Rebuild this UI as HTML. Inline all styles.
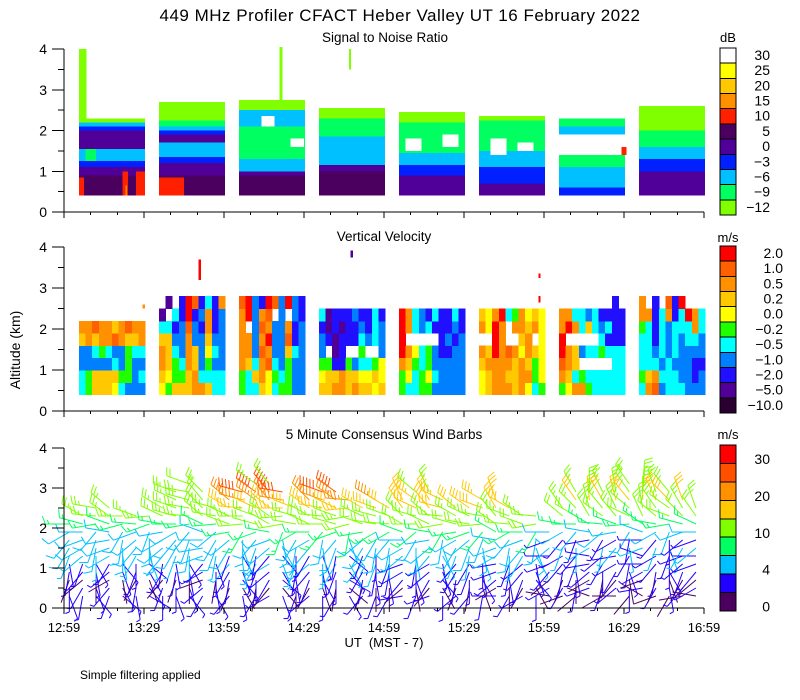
<!DOCTYPE html>
<html><head><meta charset="utf-8"><style>
html,body{margin:0;padding:0;background:#fff;}
svg{display:block;font-family:"Liberation Sans",sans-serif;}
</style></head><body>
<svg id="chart" width="800" height="700" viewBox="0 0 800 700" xmlns="http://www.w3.org/2000/svg" shape-rendering="crispEdges">
<rect width="800" height="700" fill="#fff"/>
<text x="400" y="21" font-size="17" text-anchor="middle" letter-spacing="0.5">449 MHz Profiler CFACT Heber Valley UT 16 February 2022</text>
<text x="385" y="42" font-size="13.5" text-anchor="middle">Signal to Noise Ratio</text>
<text x="384" y="241" font-size="13.5" text-anchor="middle">Vertical Velocity</text>
<text x="384" y="439" font-size="13.5" text-anchor="middle">5 Minute Consensus Wind Barbs</text>
<text transform="translate(20,350) rotate(-90)" font-size="14" text-anchor="middle">Altitude (km)</text>
<text x="384" y="647" font-size="13" text-anchor="middle" xml:space="preserve">UT  (MST - 7)</text>
<text x="80" y="679" font-size="12">Simple filtering applied</text>
<g id="g-snr"></g>
<g id="g-vv"></g>
<g id="g-wind"></g>
<g id="g-axes"></g>
<g id="g-cbar"></g>
</svg>
<script>
// ---------- data ----------
const blockStart = [5.6, 35.6, 65.6, 95.6, 125.6, 155.6, 185.6, 215.6];
const blockEnd = [30.4, 60.4, 90.4, 120.4, 150.4, 180.4, 210.4, 240.4];
const snrColors = ['#80ff00','#00ff60','#00c0ff','#0020ff','#500099','#4b0060','#ff2000','#ff9000','#ffc800','#ffff00','#ffffff'];
const snrLabels = ['-12','-9','-6','-3','0','5','10','15','20','25','30'];
const snrLayers = [
 [[0.9,5],[1.1,4],[1.25,3],[1.55,2],[1.75,4],[2.0,4],[2.1,3],[2.2,2],[2.3,0]],
 [[0.9,5],[1.2,4],[1.35,3],[1.7,2],[1.9,4],[2.0,3],[2.1,2],[2.25,1],[2.7,0]],
 [[0.9,5],[1.0,4],[1.3,2],[1.7,1],[2.1,1],[2.5,2],[2.75,0]],
 [[1.0,5],[1.15,4],[1.5,2],[1.85,2],[2.3,1],[2.55,0]],
 [[0.9,4],[1.15,3],[1.45,2],[1.8,1],[2.2,1],[2.45,0]],
 [[0.7,4],[1.1,3],[1.5,2],[1.9,1],[2.25,1],[2.35,0]],
 [[0.6,3],[1.1,2],[1.4,1],[1.9,10],[2.1,2],[2.3,1]],
 [[1.0,4],[1.3,3],[1.6,2],[2.0,1],[2.4,0],[2.6,0]]
];
const snrPatches = [
 [5.6,7.5,0.4,0.85,6],[22,24,0.4,1.0,6],[27,30.4,0.4,1.0,6],[23,23.6,0.4,0.65,7],
 [5.6,8.5,2.2,4.0,0],[8,12,1.25,1.55,1],[35.6,45,0.4,0.85,6],
 [80.8,82,2.7,4.05,0],[106.8,107.6,3.5,4.0,0],
 [74,79,2.1,2.35,10],[85,90,1.6,1.8,10],[128,134,1.5,1.8,10],[142,148,1.6,1.9,10],
 [160,166,1.4,1.8,10],[170,176,1.5,1.7,10],[209,211,1.4,1.6,6],[215.6,225,0.4,1.0,4]
];
const vvColors = ['#2a0030','#500099','#2010ff','#0080ff','#00ffff','#20ff00','#ffff00','#ffc800','#ff9000','#ff6000','#ff0000'];
const vvLabels = ['-10.0','-5.0','-2.0','-1.0','-0.5','-0.2','0.0','0.2','0.5','1.0','2.0'];
const vvRowBase = [0.4,0.7,1.0,1.3,1.6,1.9,2.2,2.5];
const vvGrid = [
 ["4577764333","4577775534","3333343533","3345433544","7878898778","8898878988","..........",".........."],
 ["6577788744","7655784444","8754873533","8743873643","7733833733","4423932823","1.42a23823",".1.2a92428"],
 ["5447645533","5478654533","8748943533","8839833743","8838a33923","8.39833823","8a389.3.32","9a32a93a32"],
 ["7788787767","6778776676","5522534456","3.12..5..3","3212224343","2121223243","4122232242",".........."],
 ["5445533333","5645643333","8754533333","a864532233","a.....2323","a843422232","a843242242",".........."],
 ["6788878645","6788778856","7888878756","87a8986876","..a8..78.6","86a8.88786","768a458676",".........."],
 ["5688544444","8745444444","987.....44","a873445444","a.....4222","8a84743422","8844342222","........2."],
 ["4893444333","5784443323","4443433322","4434343333","4424343443","5424344484","8824824a84","8.2.92a..."]
];
const vvSpikes = [[50.5,51.3,3.2,3.7,10],[107.5,108.3,3.75,3.92,1],[29.5,30.3,2.5,2.6,8],[178,178.6,3.25,3.35,10],[178,178.6,2.65,2.8,10]];
const windColors = ['#4b0060','#2000ff','#00c0ff','#00ff60','#80ff00','#ffc800','#ff9000','#ff5000','#ff0000'];
const windThresh = [2,4,7,10,15,20,25,30];
const windLabels = ['30','20','10','4','0'];
const windLevels = [0.3,0.5,0.7,0.9,1.1,1.3,1.5,1.7,1.9,2.1,2.3,2.5,2.7,2.9,3.1];
const hourSpeed = [
 [2,3,1,3,3,4,5,5,6,9,12,14,13,12,11],
 [3,1,3,3,4,3,5,6,8,10,13,17,22,26,12],
 [2,1,3,2,3,4,5,6,7,10,12,15,17,14,12],
 [1,2,1,3,2,3,4,3,5,8,11,13,16,14,12]
];
const hourDir = [
 [160,180,200,190,170,200,210,220,240,270,285,290,295,290,300],
 [200,180,170,190,200,180,190,210,240,280,285,290,300,300,300],
 [220,190,180,200,210,190,200,230,250,280,295,305,315,320,320],
 [250,210,200,190,220,240,200,220,240,280,310,325,335,340,340]
];
const colTime = [2,7,12,17,22,27,32,37,42,47,52,57,62,67,72,77,82,87,92,97,102,107,112,117,122,127,132,137,142,147,152,157,162,167,172,177,182,187,192,197,202,207,212,217,222,227,232,237];
const colTop = [2.2,2.4,2.5,2.5,2.4,2.3,2.3,2.6,3.0,3.3,2.9,2.6,2.8,3.0,3.2,3.2,2.9,2.6,2.8,3.0,3.0,2.8,2.6,2.7,2.6,2.8,3.0,3.0,2.8,2.6,2.6,2.8,2.7,2.6,2.4,2.4,2.0,2.6,2.9,3.0,3.0,2.9,3.2,3.3,3.0,2.9,2.8,2.6];
const colDirOff = [0,15,-10,20,-15,5,-20,10,0,-10,25,-5,10,-15,5,20,-20,0,15,-10,5,-25,10,0,-5,20,-10,15,-20,5,0,-15,25,-5,10,-20,15,0,-10,20,-5,10,-15,25,0,-20,5,15];

// ---------- scales ----------
const NS='http://www.w3.org/2000/svg';
function xS(m){return 64 + m*80/30;}
function y1(a){return 212 - a*40.75;}
function y2(a){return 411 - a*41;}
function y3(a){return 608 - a*40;}
function mk(tag,attrs,parent){const e=document.createElementNS(NS,tag);for(const k in attrs)e.setAttribute(k,attrs[k]);parent.appendChild(e);return e;}

// ---------- SNR ----------
const gS=document.getElementById('g-snr');
snrLayers.forEach((layers,b)=>{
  let base=0.4;
  layers.forEach(([top,c])=>{
    const r=mk('rect',{x:xS(blockStart[b]),y:y1(top),width:xS(blockEnd[b])-xS(blockStart[b]),height:y1(base)-y1(top),fill:snrColors[c]},gS);
    
    
    base=top;
  });
});
snrPatches.forEach(([t0,t1,a0,a1,c])=>{
  const r=mk('rect',{x:xS(t0),y:y1(a1),width:xS(t1)-xS(t0),height:y1(a0)-y1(a1),fill:snrColors[c]},gS);
  
  
});

// ---------- VV ----------
const gV=document.getElementById('g-vv');
vvGrid.forEach((rows,b)=>{
  const cw=(blockEnd[b]-blockStart[b])/10;
  rows.forEach((row,ri)=>{
    for(let ci=0;ci<row.length;ci++){
      const ch=row[ci]; if(ch==='.') continue;
      const v=parseInt(ch,16);
      const a0=vvRowBase[ri], a1=a0+0.3;
      const t0=blockStart[b]+ci*cw;
      const r=mk('rect',{x:xS(t0),y:y2(a1),width:xS(t0+cw)-xS(t0)+0.5,height:y2(a0)-y2(a1)+0.5,fill:vvColors[v]},gV);
      
      
    }
  });
});
vvSpikes.forEach(([t0,t1,a0,a1,c])=>{
  const r=mk('rect',{x:xS(t0),y:y2(a1),width:xS(t1)-xS(t0),height:y2(a0)-y2(a1),fill:vvColors[c]},gV);
  
  
});

// ---------- Wind barbs ----------
const gW=document.getElementById('g-wind');
gW.setAttribute('shape-rendering','auto');
function spdIdx(s){let i=0;while(i<windThresh.length&&s>=windThresh[i])i++;return i;}
colTime.forEach((t,ci)=>{
  const h=Math.min(3,Math.floor(t/60));
  windLevels.forEach((alt,li)=>{
    if(alt>colTop[ci]) return;
    const s=hourSpeed[h][li], d=(hourDir[h][li]+colDirOff[ci]*(li<9?2:1))*Math.PI/180;
    const x0=xS(t), yy=y3(alt), L=24;
    const ux=Math.sin(d), uy=-Math.cos(d);
    const col=windColors[spdIdx(s)];
    const g=mk('g',{stroke:col,'stroke-width':1,fill:'none'},gW);
    
    
    mk('line',{x1:x0,y1:yy,x2:x0+ux*L,y2:yy+uy*L},g);
    let rem=s, pos=L;
    const px=-uy, py=ux;
    while(rem>=4.5){mk('line',{x1:x0+ux*pos,y1:yy+uy*pos,x2:x0+ux*(pos+3)+px*8,y2:yy+uy*(pos+3)+py*8},g);rem-=5;pos-=3.5;}
    if(rem>=2){mk('line',{x1:x0+ux*pos,y1:yy+uy*pos,x2:x0+ux*(pos+1.5)+px*4,y2:yy+uy*(pos+1.5)+py*4},g);}
  });
});

// ---------- Axes ----------
const gA=document.getElementById('g-axes');
const ticks=['12:59','13:29','13:59','14:29','14:59','15:29','15:59','16:29','16:59'];
[y1,y2,y3].forEach((yf,pi)=>{
  const y0=yf(0);
  mk('line',{x1:64,y1:yf(4),x2:64,y2:y0,stroke:'#000'},gA);
  mk('line',{x1:64,y1:y0,x2:704,y2:y0,stroke:'#000'},gA);
  for(let a=0;a<=4;a+=0.5){
    const major=a%1===0;
    mk('line',{x1:major?52:58,y1:yf(a),x2:64,y2:yf(a),stroke:'#000'},gA);
    if(major){const tx=mk('text',{x:47,y:yf(a)+5,'font-size':14,'text-anchor':'end'},gA);tx.textContent=String(a);
      
      }
  }
  for(let m=0;m<=240;m+=10){
    const major=m%30===0;
    mk('line',{x1:xS(m),y1:y0,x2:xS(m),y2:y0+(major?6:3),stroke:'#000'},gA);
  }
  if(pi===2){
    ticks.forEach((lab,i)=>{const tx=mk('text',{x:xS(i*30),y:y0+24,'font-size':13,'text-anchor':'middle'},gA);tx.textContent=lab;
      
      });
  }
});

// ---------- Colorbars ----------
const gC=document.getElementById('g-cbar');
function cbar(colorsTopDown,top,bottom,labels,labelCells,unit,unitY,labelX,labelOff){
  const n=colorsTopDown.length, h=(bottom-top)/n;
  colorsTopDown.forEach((c,i)=>{
    const r=mk('rect',{x:720,y:top+i*h,width:16,height:h,fill:c,stroke:'#000','stroke-width':1},gC);
    
    
  });
  labels.forEach((lab,i)=>{
    const tx=mk('text',{x:labelX,y:top+labelCells[i]*h+labelOff,'font-size':14,'text-anchor':'end'},gC);
    tx.textContent=lab.replace('-','\u2212');
    
    
  });
  const u=mk('text',{x:728,y:unitY,'font-size':13,'text-anchor':'middle'},gC);u.textContent=unit;
  
  
}
cbar(snrColors.slice().reverse(),48,215,snrLabels.slice().reverse(),[0,1,2,3,4,5,6,7,8,9,10],'dB',42,770,12);
cbar(vvColors.slice().reverse(),246,413,vvLabels.slice().reverse(),[0,1,2,3,4,5,6,7,8,9,10],'m/s',242,783,12);
cbar(windColors.slice().reverse(),445,611,windLabels,[0,2,4,6,8],'m/s',439,770,19);
</script>
</body></html>
